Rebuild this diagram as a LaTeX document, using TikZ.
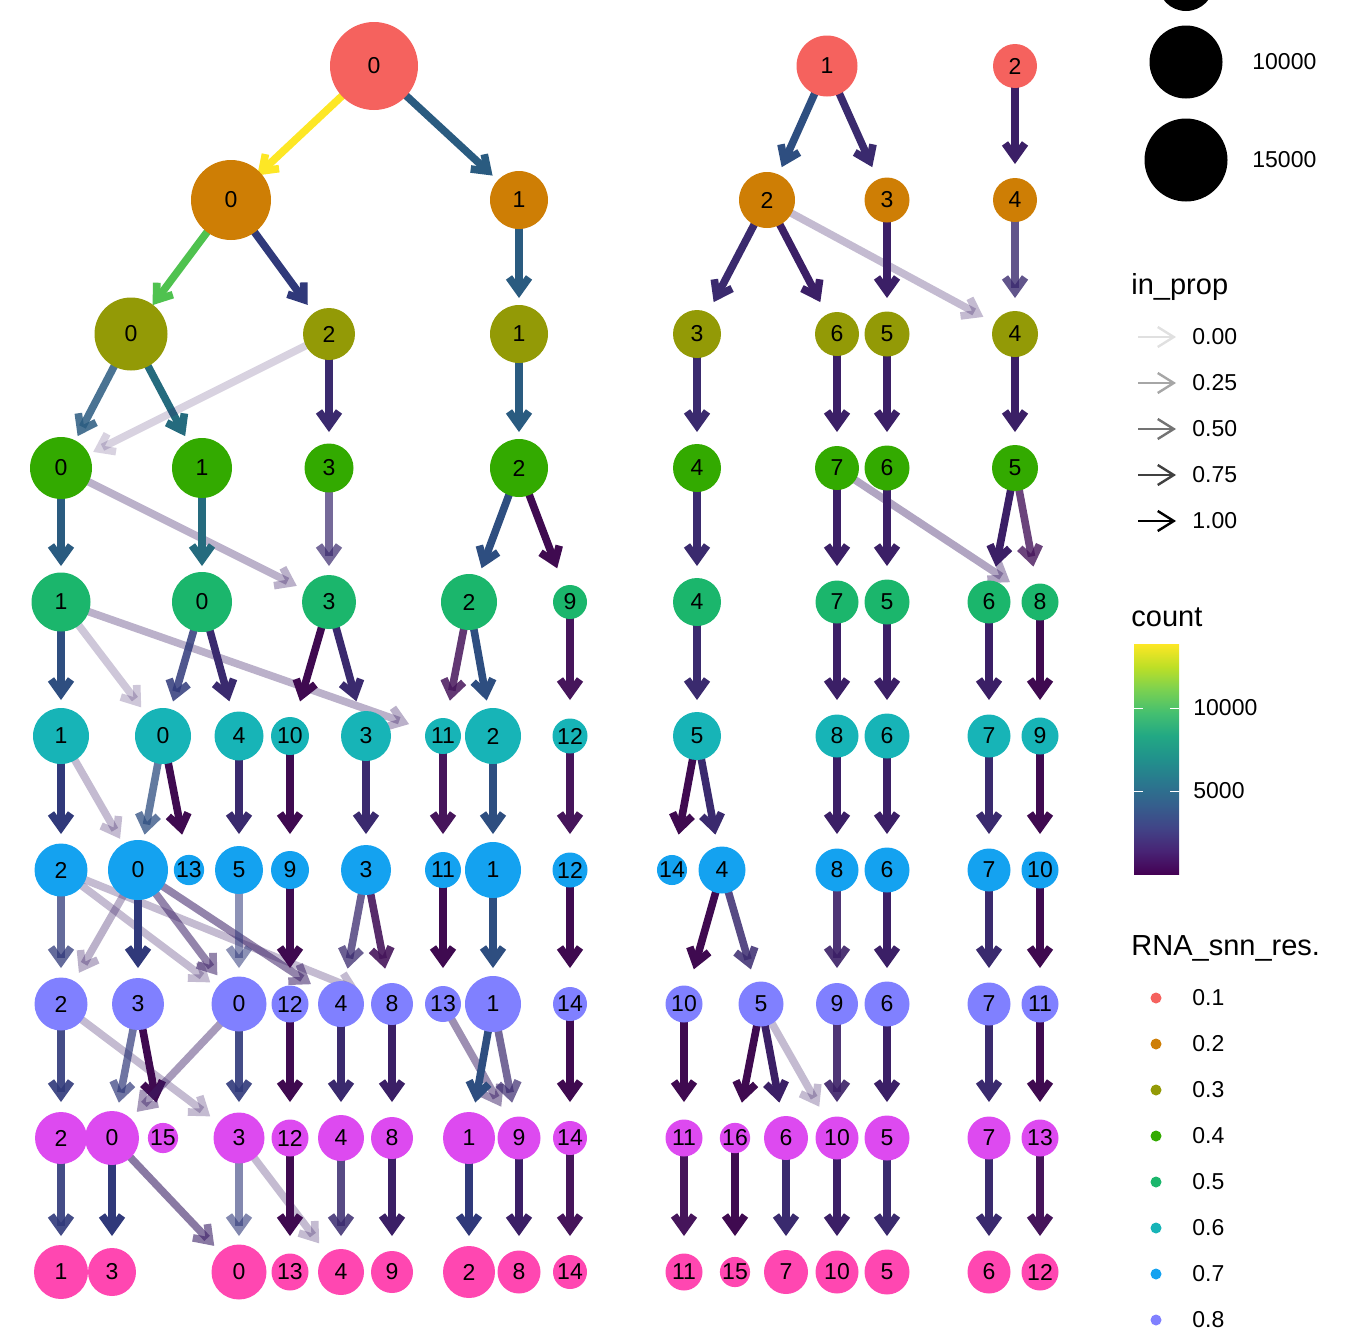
\documentclass[tikz,border=0pt]{standalone}
\usepackage{fontspec}
\setmainfont{Liberation Sans}
\usepackage{xcolor}
\usepackage{tikz}
\usetikzlibrary{arrows.meta}

\definecolor{res1}{HTML}{F5625E}
\definecolor{res2}{HTML}{CE7E05}
\definecolor{res3}{HTML}{939A06}
\definecolor{res4}{HTML}{33AA00}
\definecolor{res5}{HTML}{1BB66C}
\definecolor{res6}{HTML}{17B4B7}
\definecolor{res7}{HTML}{14A2F0}
\definecolor{res8}{HTML}{8080FF}
\definecolor{res9}{HTML}{DD4AF0}
\definecolor{res10}{HTML}{FF47B1}

\definecolor{vdk}{HTML}{3F0A50}
\definecolor{vpu}{HTML}{46155B}
\definecolor{vin}{HTML}{3B1F66}
\definecolor{vid}{HTML}{3A2A6E}
\definecolor{vnv}{HTML}{30397A}
\definecolor{vbl}{HTML}{2E4E80}
\definecolor{vbt}{HTML}{2A5B80}
\definecolor{vte}{HTML}{256B7E}
\definecolor{vgr}{HTML}{4FC24F}
\definecolor{vye}{HTML}{FDE725}

\definecolor{vir0}{HTML}{440154}
\definecolor{vir1}{HTML}{482475}
\definecolor{vir2}{HTML}{414487}
\definecolor{vir3}{HTML}{355F8D}
\definecolor{vir4}{HTML}{2A788E}
\definecolor{vir5}{HTML}{21918C}
\definecolor{vir6}{HTML}{22A884}
\definecolor{vir7}{HTML}{44BF70}
\definecolor{vir8}{HTML}{7AD151}
\definecolor{vir9}{HTML}{BDDF26}
\definecolor{vir10}{HTML}{FDE725}
\pgfdeclareverticalshading{viridis}{100bp}{color(0bp)=(vir0); color(25bp)=(vir0);
  color(30bp)=(vir1); color(35bp)=(vir2); color(40bp)=(vir3); color(45bp)=(vir4);
  color(50bp)=(vir5); color(55bp)=(vir6); color(60bp)=(vir7); color(65bp)=(vir8);
  color(70bp)=(vir9); color(75bp)=(vir10); color(100bp)=(vir10)}

\pgfdeclarelayer{back}
\pgfsetlayers{back,main}

\begin{document}
\begin{tikzpicture}[x=0.5pt, y=-0.5pt,
  clus/.style={circle, inner sep=0pt, font=\fontsize{11.5}{12}\selectfont},
  edge/.style={line width=3.8pt, shorten >=18pt, -{Straight Barb[sharp, length=7pt, width=10pt]}},
  keyarrow/.style={line width=1.2pt, -{Straight Barb[length=8pt, width=10pt]}},
  key/.style={anchor=west, inner sep=0pt, font=\fontsize{11.5}{12}\selectfont},
  keytitle/.style={anchor=west, inner sep=0pt, font=\fontsize{14.5}{15}\selectfont}]
\useasboundingbox (0,0) rectangle (1344,1344);

% resolution 0.1
\node[clus, fill=res1, minimum size=44pt] (a0) at (374,66) {0};
\node[clus, fill=res1, minimum size=30.5pt] (a1) at (827,66) {1};
\node[clus, fill=res1, minimum size=22pt] (a2) at (1015,66) {2};
% resolution 0.2
\node[clus, fill=res2, minimum size=40pt] (b0) at (231,200) {0};
\node[clus, fill=res2, minimum size=29pt] (b1) at (519,200) {1};
\node[clus, fill=res2, minimum size=28pt] (b2) at (767,200) {2};
\node[clus, fill=res2, minimum size=22.5pt] (b3) at (887,200) {3};
\node[clus, fill=res2, minimum size=22pt] (b4) at (1015,200) {4};
% resolution 0.3
\node[clus, fill=res3, minimum size=36.5pt] (c0) at (131,334) {0};
\node[clus, fill=res3, minimum size=26pt] (c2) at (329,334) {2};
\node[clus, fill=res3, minimum size=29pt] (c1) at (519,334) {1};
\node[clus, fill=res3, minimum size=24pt] (c3) at (697,334) {3};
\node[clus, fill=res3, minimum size=22pt] (c6) at (837,334) {6};
\node[clus, fill=res3, minimum size=22.5pt] (c5) at (887,334) {5};
\node[clus, fill=res3, minimum size=23pt] (c4) at (1015,334) {4};
% resolution 0.4
\node[clus, fill=res4, minimum size=31pt] (d0) at (61,468) {0};
\node[clus, fill=res4, minimum size=30pt] (d1) at (202,468) {1};
\node[clus, fill=res4, minimum size=24.5pt] (d3) at (329,468) {3};
\node[clus, fill=res4, minimum size=29pt] (d2) at (519,468) {2};
\node[clus, fill=res4, minimum size=24pt] (d4) at (697,468) {4};
\node[clus, fill=res4, minimum size=22pt] (d7) at (837,468) {7};
\node[clus, fill=res4, minimum size=22.5pt] (d6) at (887,468) {6};
\node[clus, fill=res4, minimum size=23pt] (d5) at (1015,468) {5};
% resolution 0.5
\node[clus, fill=res5, minimum size=29.5pt] (e1) at (61,602) {1};
\node[clus, fill=res5, minimum size=30pt] (e0) at (202,602) {0};
\node[clus, fill=res5, minimum size=27pt] (e3) at (329,602) {3};
\node[clus, fill=res5, minimum size=28pt] (e2) at (469,602) {2};
\node[clus, fill=res5, minimum size=17pt] (e9) at (570,602) {9};
\node[clus, fill=res5, minimum size=24pt] (e4) at (697,602) {4};
\node[clus, fill=res5, minimum size=21.5pt] (e7) at (837,602) {7};
\node[clus, fill=res5, minimum size=22.5pt] (e5) at (887,602) {5};
\node[clus, fill=res5, minimum size=21.5pt] (e6) at (989,602) {6};
\node[clus, fill=res5, minimum size=18.5pt] (e8) at (1040,602) {8};
% resolution 0.6
\node[clus, fill=res6, minimum size=28pt] (f1) at (61,736) {1};
\node[clus, fill=res6, minimum size=28pt] (f0) at (163,736) {0};
\node[clus, fill=res6, minimum size=24.5pt] (f4) at (239,736) {4};
\node[clus, fill=res6, minimum size=19pt] (f10) at (290,736) {10};
\node[clus, fill=res6, minimum size=25pt] (f3) at (366,736) {3};
\node[clus, fill=res6, minimum size=18pt] (f11) at (443,736) {11};
\node[clus, fill=res6, minimum size=28pt] (f2) at (493,736) {2};
\node[clus, fill=res6, minimum size=17.5pt] (f12) at (570,736) {12};
\node[clus, fill=res6, minimum size=24pt] (f5) at (697,736) {5};
\node[clus, fill=res6, minimum size=21.5pt] (f8) at (837,736) {8};
\node[clus, fill=res6, minimum size=22.5pt] (f6) at (887,736) {6};
\node[clus, fill=res6, minimum size=21.5pt] (f7) at (989,736) {7};
\node[clus, fill=res6, minimum size=18.5pt] (f9) at (1040,736) {9};
% resolution 0.7
\node[clus, fill=res7, minimum size=26.5pt] (g2) at (61,870) {2};
\node[clus, fill=res7, minimum size=30pt] (g0) at (138,870) {0};
\node[clus, fill=res7, minimum size=15pt] (g13) at (189,870) {13};
\node[clus, fill=res7, minimum size=24pt] (g5) at (239,870) {5};
\node[clus, fill=res7, minimum size=19pt] (g9) at (290,870) {9};
\node[clus, fill=res7, minimum size=25pt] (g3) at (366,870) {3};
\node[clus, fill=res7, minimum size=18pt] (g11) at (443,870) {11};
\node[clus, fill=res7, minimum size=28pt] (g1) at (493,870) {1};
\node[clus, fill=res7, minimum size=17.5pt] (g12) at (570,870) {12};
\node[clus, fill=res7, minimum size=13.5pt] (g14) at (672,870) {14};
\node[clus, fill=res7, minimum size=23.5pt] (g4) at (722,870) {4};
\node[clus, fill=res7, minimum size=21.5pt] (g8) at (837,870) {8};
\node[clus, fill=res7, minimum size=22.5pt] (g6) at (887,870) {6};
\node[clus, fill=res7, minimum size=21.5pt] (g7) at (989,870) {7};
\node[clus, fill=res7, minimum size=18.5pt] (g10) at (1040,870) {10};
% resolution 0.8
\node[clus, fill=res8, minimum size=26.5pt] (h2) at (61,1004) {2};
\node[clus, fill=res8, minimum size=26pt] (h3) at (138,1004) {3};
\node[clus, fill=res8, minimum size=27.5pt] (h0) at (239,1004) {0};
\node[clus, fill=res8, minimum size=18.5pt] (h12) at (290,1004) {12};
\node[clus, fill=res8, minimum size=23pt] (h4) at (341,1004) {4};
\node[clus, fill=res8, minimum size=21pt] (h8) at (392,1004) {8};
\node[clus, fill=res8, minimum size=18pt] (h13) at (443,1004) {13};
\node[clus, fill=res8, minimum size=28pt] (h1) at (493,1004) {1};
\node[clus, fill=res8, minimum size=17pt] (h14) at (570,1004) {14};
\node[clus, fill=res8, minimum size=18.5pt] (h10) at (684,1004) {10};
\node[clus, fill=res8, minimum size=22.5pt] (h5) at (761,1004) {5};
\node[clus, fill=res8, minimum size=21pt] (h9) at (837,1004) {9};
\node[clus, fill=res8, minimum size=22.5pt] (h6) at (887,1004) {6};
\node[clus, fill=res8, minimum size=21.5pt] (h7) at (989,1004) {7};
\node[clus, fill=res8, minimum size=18.5pt] (h11) at (1040,1004) {11};
% resolution 0.9
\node[clus, fill=res9, minimum size=26pt] (i2) at (61,1138) {2};
\node[clus, fill=res9, minimum size=27pt] (i0) at (112,1138) {0};
\node[clus, fill=res9, minimum size=15pt] (i15) at (163,1138) {15};
\node[clus, fill=res9, minimum size=25.5pt] (i3) at (239,1138) {3};
\node[clus, fill=res9, minimum size=18.5pt] (i12) at (290,1138) {12};
\node[clus, fill=res9, minimum size=23pt] (i4) at (341,1138) {4};
\node[clus, fill=res9, minimum size=21pt] (i8) at (392,1138) {8};
\node[clus, fill=res9, minimum size=26pt] (i1) at (469,1138) {1};
\node[clus, fill=res9, minimum size=21.5pt] (i9) at (519,1138) {9};
\node[clus, fill=res9, minimum size=17pt] (i14) at (570,1138) {14};
\node[clus, fill=res9, minimum size=18.5pt] (i11) at (684,1138) {11};
\node[clus, fill=res9, minimum size=13.5pt] (i16) at (735,1138) {16};
\node[clus, fill=res9, minimum size=22pt] (i6) at (786,1138) {6};
\node[clus, fill=res9, minimum size=21.5pt] (i10) at (837,1138) {10};
\node[clus, fill=res9, minimum size=22.5pt] (i5) at (887,1138) {5};
\node[clus, fill=res9, minimum size=21.5pt] (i7) at (989,1138) {7};
\node[clus, fill=res9, minimum size=18.5pt] (i13) at (1040,1138) {13};
% resolution 1
\node[clus, fill=res10, minimum size=27pt] (j1) at (61,1272) {1};
\node[clus, fill=res10, minimum size=24pt] (j3) at (112,1272) {3};
\node[clus, fill=res10, minimum size=27.5pt] (j0) at (239,1272) {0};
\node[clus, fill=res10, minimum size=18.5pt] (j13) at (290,1272) {13};
\node[clus, fill=res10, minimum size=23pt] (j4) at (341,1272) {4};
\node[clus, fill=res10, minimum size=21pt] (j9) at (392,1272) {9};
\node[clus, fill=res10, minimum size=26pt] (j2) at (469,1272) {2};
\node[clus, fill=res10, minimum size=21.5pt] (j8) at (519,1272) {8};
\node[clus, fill=res10, minimum size=17pt] (j14) at (570,1272) {14};
\node[clus, fill=res10, minimum size=18.5pt] (j11) at (684,1272) {11};
\node[clus, fill=res10, minimum size=13.5pt] (j15) at (735,1272) {15};
\node[clus, fill=res10, minimum size=22pt] (j7) at (786,1272) {7};
\node[clus, fill=res10, minimum size=21.5pt] (j10) at (837,1272) {10};
\node[clus, fill=res10, minimum size=22.5pt] (j5) at (887,1272) {5};
\node[clus, fill=res10, minimum size=21.5pt] (j6) at (989,1272) {6};
\node[clus, fill=res10, minimum size=18.5pt] (j12) at (1040,1272) {12};

\begin{pgfonlayer}{back}
% 0.1 -> 0.2
\draw[edge, vye] (a0.center) -- (b0.center);
\draw[edge, vbt] (a0.center) -- (b1.center);
\draw[edge, vbl] (a1.center) -- (b2.center);
\draw[edge, vid] (a1.center) -- (b3.center);
\draw[edge, vin] (a2.center) -- (b4.center);
% 0.2 -> 0.3
\draw[edge, vgr] (b0.center) -- (c0.center);
\draw[edge, vnv] (b0.center) -- (c2.center);
\draw[edge, vbt] (b1.center) -- (c1.center);
\draw[edge, vid] (b2.center) -- (c3.center);
\draw[edge, vin] (b2.center) -- (c6.center);
\draw[edge, vin, opacity=.3] (b2.center) -- (c4.center);
\draw[edge, vin] (b3.center) -- (c5.center);
\draw[edge, vid, opacity=.8] (b4.center) -- (c4.center);
% 0.3 -> 0.4
\draw[edge, vbt, opacity=.85] (c0.center) -- (d0.center);
\draw[edge, vte] (c0.center) -- (d1.center);
\draw[edge, vin, opacity=.2] (c2.center) -- (d0.center);
\draw[edge, vid] (c2.center) -- (d3.center);
\draw[edge, vbt] (c1.center) -- (d2.center);
\draw[edge, vid] (c3.center) -- (d4.center);
\draw[edge, vin] (c6.center) -- (d7.center);
\draw[edge, vin] (c5.center) -- (d6.center);
\draw[edge, vin] (c4.center) -- (d5.center);
% 0.4 -> 0.5
\draw[edge, vbt] (d0.center) -- (e1.center);
\draw[edge, vin, opacity=.35] (d0.center) -- (e3.center);
\draw[edge, vte] (d1.center) -- (e0.center);
\draw[edge, vid, opacity=.7] (d3.center) -- (e3.center);
\draw[edge, vbl] (d2.center) -- (e2.center);
\draw[edge, vdk] (d2.center) -- (e9.center);
\draw[edge, vid] (d4.center) -- (e4.center);
\draw[edge, vin] (d7.center) -- (e7.center);
\draw[edge, vin, opacity=.4] (d7.center) -- (e8.center);
\draw[edge, vin] (d6.center) -- (e5.center);
\draw[edge, vin] (d5.center) -- (e6.center);
\draw[edge, vpu, opacity=.8] (d5.center) -- (e8.center);
% 0.5 -> 0.6
\draw[edge, vbl] (e1.center) -- (f1.center);
\draw[edge, vin, opacity=.25] (e1.center) -- (f0.center);
\draw[edge, vin, opacity=.35] (e1.center) -- (f11.center);
\draw[edge, vnv, opacity=.85] (e0.center) -- (f0.center);
\draw[edge, vid] (e0.center) -- (f4.center);
\draw[edge, vdk] (e3.center) -- (f10.center);
\draw[edge, vid] (e3.center) -- (f3.center);
\draw[edge, vpu, opacity=.85] (e2.center) -- (f11.center);
\draw[edge, vbl] (e2.center) -- (f2.center);
\draw[edge, vpu] (e9.center) -- (f12.center);
\draw[edge, vid] (e4.center) -- (f5.center);
\draw[edge, vin] (e7.center) -- (f8.center);
\draw[edge, vin] (e5.center) -- (f6.center);
\draw[edge, vin] (e6.center) -- (f7.center);
\draw[edge, vdk] (e8.center) -- (f9.center);
% 0.6 -> 0.7
\draw[edge, vnv] (f1.center) -- (g2.center);
\draw[edge, vin, opacity=.3] (f1.center) -- (g0.center);
\draw[edge, vbl, opacity=.75] (f0.center) -- (g0.center);
\draw[edge, vdk] (f0.center) -- (g13.center);
\draw[edge, vid] (f4.center) -- (g5.center);
\draw[edge, vdk] (f10.center) -- (g9.center);
\draw[edge, vid] (f3.center) -- (g3.center);
\draw[edge, vpu] (f11.center) -- (g11.center);
\draw[edge, vbl] (f2.center) -- (g1.center);
\draw[edge, vpu] (f12.center) -- (g12.center);
\draw[edge, vdk] (f5.center) -- (g14.center);
\draw[edge, vid] (f5.center) -- (g4.center);
\draw[edge, vin] (f8.center) -- (g8.center);
\draw[edge, vin] (f6.center) -- (g6.center);
\draw[edge, vid] (f7.center) -- (g7.center);
\draw[edge, vdk] (f9.center) -- (g10.center);
% 0.7 -> 0.8
\draw[edge, vnv, opacity=.75] (g2.center) -- (h2.center);
\draw[edge, vin, opacity=.3] (g2.center) -- (h0.center);
\draw[edge, vin, opacity=.3] (g2.center) -- (h8.center);
\draw[edge, vin, opacity=.35] (g0.center) -- (h2.center);
\draw[edge, vnv] (g0.center) -- (h3.center);
\draw[edge, vin, opacity=.55] (g0.center) -- (h0.center);
\draw[edge, vin, opacity=.55] (g0.center) -- (h4.center);
\draw[edge, vnv, opacity=.55] (g5.center) -- (h0.center);
\draw[edge, vdk] (g9.center) -- (h12.center);
\draw[edge, vid, opacity=.75] (g3.center) -- (h4.center);
\draw[edge, vpu, opacity=.9] (g3.center) -- (h8.center);
\draw[edge, vdk] (g11.center) -- (h13.center);
\draw[edge, vbl] (g1.center) -- (h1.center);
\draw[edge, vdk] (g12.center) -- (h14.center);
\draw[edge, vdk] (g4.center) -- (h10.center);
\draw[edge, vid, opacity=.85] (g4.center) -- (h5.center);
\draw[edge, vin, opacity=.9] (g8.center) -- (h9.center);
\draw[edge, vin] (g6.center) -- (h6.center);
\draw[edge, vid] (g7.center) -- (h7.center);
\draw[edge, vdk] (g10.center) -- (h11.center);
% 0.8 -> 0.9
\draw[edge, vnv, opacity=.9] (h2.center) -- (i2.center);
\draw[edge, vin, opacity=.3] (h2.center) -- (i3.center);
\draw[edge, vnv, opacity=.7] (h3.center) -- (i0.center);
\draw[edge, vdk] (h3.center) -- (i15.center);
\draw[edge, vin, opacity=.45] (h0.center) -- (i0.center);
\draw[edge, vnv, opacity=.9] (h0.center) -- (i3.center);
\draw[edge, vdk] (h12.center) -- (i12.center);
\draw[edge, vid] (h4.center) -- (i4.center);
\draw[edge, vin] (h8.center) -- (i8.center);
\draw[edge, vin, opacity=.5] (h13.center) -- (i9.center);
\draw[edge, vbl] (h1.center) -- (i1.center);
\draw[edge, vid, opacity=.7] (h1.center) -- (i9.center);
\draw[edge, vdk] (h14.center) -- (i14.center);
\draw[edge, vdk] (h10.center) -- (i11.center);
\draw[edge, vdk] (h5.center) -- (i16.center);
\draw[edge, vin] (h5.center) -- (i6.center);
\draw[edge, vin, opacity=.3] (h5.center) -- (i10.center);
\draw[edge, vin, opacity=.9] (h9.center) -- (i10.center);
\draw[edge, vin] (h6.center) -- (i5.center);
\draw[edge, vid] (h7.center) -- (i7.center);
\draw[edge, vdk] (h11.center) -- (i13.center);
% 0.9 -> 1
\draw[edge, vnv, opacity=.9] (i2.center) -- (j1.center);
\draw[edge, vnv] (i0.center) -- (j3.center);
\draw[edge, vin, opacity=.6] (i0.center) -- (j0.center);
\draw[edge, vnv, opacity=.6] (i3.center) -- (j0.center);
\draw[edge, vin, opacity=.3] (i3.center) -- (j4.center);
\draw[edge, vdk] (i12.center) -- (j13.center);
\draw[edge, vid, opacity=.85] (i4.center) -- (j4.center);
\draw[edge, vin] (i8.center) -- (j9.center);
\draw[edge, vnv] (i1.center) -- (j2.center);
\draw[edge, vin] (i9.center) -- (j8.center);
\draw[edge, vpu] (i14.center) -- (j14.center);
\draw[edge, vpu] (i11.center) -- (j11.center);
\draw[edge, vdk] (i16.center) -- (j15.center);
\draw[edge, vid] (i6.center) -- (j7.center);
\draw[edge, vin] (i10.center) -- (j10.center);
\draw[edge, vid] (i5.center) -- (j5.center);
\draw[edge, vid] (i7.center) -- (j6.center);
\draw[edge, vpu] (i13.center) -- (j12.center);
\end{pgfonlayer}

% size key
\begin{scope}
\clip (1100,0) rectangle (1344,1344);
\node[circle, fill=black, inner sep=0pt, minimum size=28pt] (sz5) at (1186,-17) {};
\end{scope}
\node[circle, fill=black, inner sep=0pt, minimum size=36.5pt] (sz10) at (1186,62) {};
\node[circle, fill=black, inner sep=0pt, minimum size=41.5pt] (sz15) at (1186,160) {};
\node[key] (sz10t) at (1252,62) {10000};
\node[key] (sz15t) at (1252,160) {15000};

% in_prop key
\node[keytitle] (ipt) at (1131,287) {in\_prop};
\coordinate (ip0a) at (1138,337); \coordinate (ip0b) at (1176,337);
\coordinate (ip1a) at (1138,383); \coordinate (ip1b) at (1176,383);
\coordinate (ip2a) at (1138,429); \coordinate (ip2b) at (1176,429);
\coordinate (ip3a) at (1138,475); \coordinate (ip3b) at (1176,475);
\coordinate (ip4a) at (1138,521); \coordinate (ip4b) at (1176,521);
\draw[keyarrow, black!12] (ip0a) -- (ip0b);
\draw[keyarrow, black!35] (ip1a) -- (ip1b);
\draw[keyarrow, black!55] (ip2a) -- (ip2b);
\draw[keyarrow, black!75] (ip3a) -- (ip3b);
\draw[keyarrow, black] (ip4a) -- (ip4b);
\node[key] (ip0t) at (1192,337) {0.00};
\node[key] (ip1t) at (1192,383) {0.25};
\node[key] (ip2t) at (1192,429) {0.50};
\node[key] (ip3t) at (1192,475) {0.75};
\node[key] (ip4t) at (1192,521) {1.00};

% count key
\node[keytitle] (cnt) at (1131,617) {count};
\shade[shading=viridis] (1134,644) rectangle (1179,874);
\draw[white, line width=0.5pt] (1134,708) -- (1143,708) (1170,708) -- (1179,708);
\draw[white, line width=0.5pt] (1134,791) -- (1143,791) (1170,791) -- (1179,791);
\node[key] (cnt10) at (1193,708) {10000};
\node[key] (cnt5) at (1193,791) {5000};

% resolution key
\node[keytitle] (rt) at (1131,948) {RNA\_snn\_res.};
\node[circle, fill=res1, inner sep=0pt, minimum size=5.5pt] (k1) at (1156,998) {};
\node[circle, fill=res2, inner sep=0pt, minimum size=5.5pt] (k2) at (1156,1044) {};
\node[circle, fill=res3, inner sep=0pt, minimum size=5.5pt] (k3) at (1156,1090) {};
\node[circle, fill=res4, inner sep=0pt, minimum size=5.5pt] (k4) at (1156,1136) {};
\node[circle, fill=res5, inner sep=0pt, minimum size=5.5pt] (k5) at (1156,1182) {};
\node[circle, fill=res6, inner sep=0pt, minimum size=5.5pt] (k6) at (1156,1228) {};
\node[circle, fill=res7, inner sep=0pt, minimum size=5.5pt] (k7) at (1156,1274) {};
\node[circle, fill=res8, inner sep=0pt, minimum size=5.5pt] (k8) at (1156,1320) {};
\node[key] (k1t) at (1192,998) {0.1};
\node[key] (k2t) at (1192,1044) {0.2};
\node[key] (k3t) at (1192,1090) {0.3};
\node[key] (k4t) at (1192,1136) {0.4};
\node[key] (k5t) at (1192,1182) {0.5};
\node[key] (k6t) at (1192,1228) {0.6};
\node[key] (k7t) at (1192,1274) {0.7};
\node[key] (k8t) at (1192,1320) {0.8};
\end{tikzpicture}
\end{document}
